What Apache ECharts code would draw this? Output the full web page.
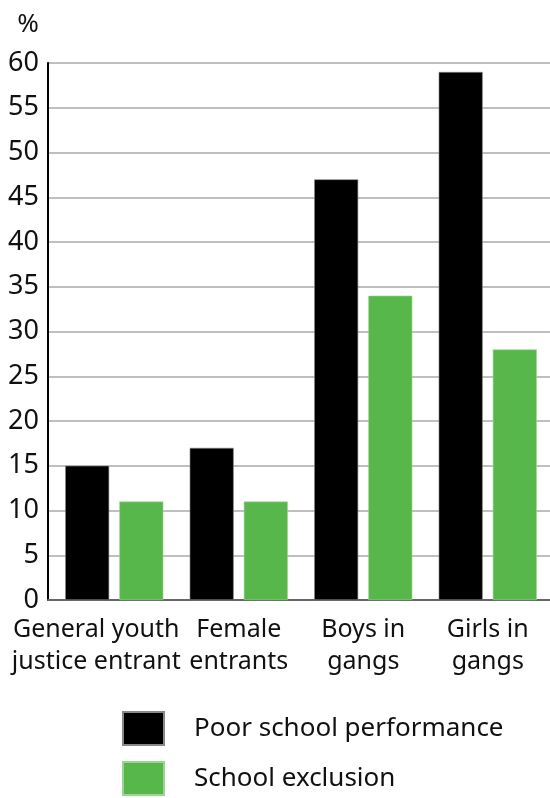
<!DOCTYPE html>
<html>
<head>
<meta charset="utf-8">
<script src="https://cdn.jsdelivr.net/npm/echarts@6/dist/echarts.min.js"></script>
<style>html,body{margin:0;padding:0;background:#fff}#c{width:550px;height:798px}</style>
</head>
<body>
<div id="c"></div>
<script>
const categories = ['General youth\njustice entrant', 'Female\nentrants', 'Boys in\ngangs', 'Girls in\ngangs'];
const poorPerformance = [15, 17, 47, 59];
const schoolExclusion = [11, 11, 34, 28];
const seriesNames = ['Poor school performance', 'School exclusion'];
const yMin = 0, yMax = 60, yStep = 5;

const FONT = '"Noto Sans", "Open Sans", sans-serif';
const labelShift = [36, 0, 0, 0];
const categoryData = categories.map((c, i) => ({ value: c, textStyle: { padding: [0, labelShift[i], 0, 0] } }));

const chart = echarts.init(document.getElementById('c'));
chart.setOption({
  animation: false,
  backgroundColor: '#fff',
  textStyle: { fontFamily: FONT, color: '#111' },
  grid: [
    { left: 48, width: 502, top: 63, height: 537 },
    { left: 52, width: 501, top: 63, height: 537 }
  ],
  xAxis: [
    { gridIndex: 0, type: 'category', data: [''],
      axisLine: { show: true, lineStyle: { color: '#666', width: 2 } },
      axisTick: { show: false }, axisLabel: { show: false }, splitLine: { show: false } },
    { gridIndex: 1, type: 'category', data: categoryData,
      axisLine: { show: false }, axisTick: { show: false },
      axisLabel: { fontSize: 25, color: '#111', fontFamily: FONT, margin: 14, lineHeight: 32, interval: 0 } }
  ],
  yAxis: [
    { gridIndex: 0, type: 'value', min: yMin, max: yMax, interval: yStep,
      name: '%', nameLocation: 'end', nameGap: 25,
      nameTextStyle: { fontSize: 26, color: '#111', fontFamily: FONT, align: 'center', padding: [0, 40, 0, 0] },
      axisLine: { show: true, lineStyle: { color: '#000', width: 2 } },
      axisTick: { show: false },
      axisLabel: { fontSize: 27, color: '#111', fontFamily: FONT, margin: 9 },
      splitLine: { show: true, lineStyle: { color: '#aaa', width: 1.5 } } },
    { gridIndex: 1, type: 'value', min: yMin, max: yMax, interval: yStep, show: false,
      splitLine: { show: false } }
  ],
  legend: {
    orient: 'vertical', left: 122, top: 708, padding: 0, height: 120,
    itemWidth: 41, itemHeight: 33, itemGap: 9,
    icon: 'rect',
    textStyle: { fontSize: 26, lineHeight: 33, color: '#111', fontFamily: FONT, padding: [8, 0, 0, 25] },
    data: seriesNames
  },
  series: [
    { name: seriesNames[0], type: 'bar', xAxisIndex: 1, yAxisIndex: 1, data: poorPerformance,
      barWidth: 44, barGap: '23%',
      itemStyle: { color: '#000', borderColor: '#888', borderWidth: 0.6 } },
    { name: seriesNames[1], type: 'bar', xAxisIndex: 1, yAxisIndex: 1, data: schoolExclusion,
      barWidth: 44, barGap: '23%',
      itemStyle: { color: '#57b74b', borderColor: '#9ad68f', borderWidth: 0.6 } }
  ]
});
</script>
</body>
</html>
